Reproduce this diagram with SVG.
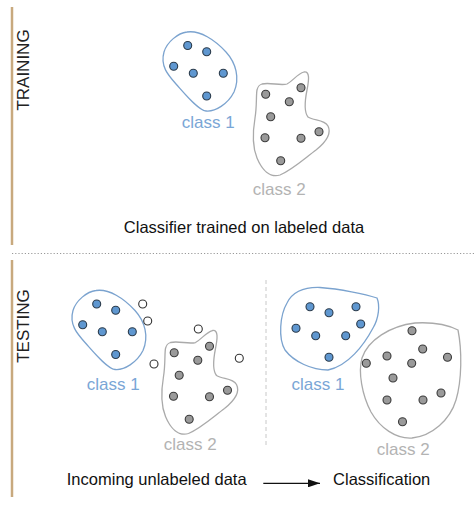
<svg xmlns="http://www.w3.org/2000/svg" width="474" height="505" viewBox="0 0 474 505">
<defs>
<style>
text{font-family:"Liberation Sans",Arial,sans-serif}
.bar{stroke:#c8a97e;stroke-width:2.5}
.side{font-size:17px;fill:#222}
.cap{font-size:16.5px;fill:#111}
.l1{font-size:17px;fill:#7aa6d6}
.l2{font-size:17px;fill:#b3b3b3}
.b1{fill:none;stroke:#7ba3cf;stroke-width:1.3}
.b2{fill:none;stroke:#aaaaaa;stroke-width:1.3}
.d1{fill:#5f97d0;stroke:#2b3b4b;stroke-width:1.1}
.d2{fill:#9a9a9a;stroke:#3a3a3a;stroke-width:1.1}
.d0{fill:#fff;stroke:#333;stroke-width:1.1}
</style>
<marker id="ah" viewBox="0 0 12 8" refX="12" refY="4" markerWidth="12" markerHeight="8" markerUnits="userSpaceOnUse" orient="auto">
<path d="M0 0 L12 4 L0 8 Z" fill="#111"/>
</marker>
<path id="blob1" d="M 187 32 C 200 30, 215 40, 226 52 C 236 63, 240 78, 234 92 C 228 104, 215 112, 206 111 C 198 110, 185 94, 176 84 C 168 75, 160 66, 164 52 C 167 42, 178 33, 187 32 Z"/>
<path id="blob2" d="M 262 84 C 270 82, 280 86, 287 84 C 293 81, 297 74, 304 72 C 310 71, 309 80, 307 90 C 305 100, 304 112, 308 117 C 314 121, 324 119, 328 126 C 332 134, 326 142, 316 150 C 304 159, 292 170, 280 175 C 270 178, 262 170, 257 158 C 252 146, 253 130, 255 118 C 257 106, 256 95, 257 90 C 258 86, 259 85, 262 84 Z"/>
<g id="dots1">
<circle cx="187.7" cy="45.5" r="4"/><circle cx="206.7" cy="51.7" r="4"/><circle cx="173.7" cy="66.3" r="4"/><circle cx="193.3" cy="73.3" r="4"/><circle cx="223.3" cy="73.3" r="4"/><circle cx="206.7" cy="96" r="4"/>
</g>
<g id="dots2">
<circle cx="265.7" cy="94.3" r="4"/><circle cx="301" cy="87.7" r="4"/><circle cx="289.3" cy="101.7" r="4"/><circle cx="270.7" cy="116.7" r="4"/><circle cx="265" cy="137.7" r="4"/><circle cx="301" cy="138.3" r="4"/><circle cx="319" cy="131.7" r="4"/><circle cx="280.7" cy="160.7" r="4"/>
</g>
</defs>

<line class="bar" x1="12" y1="7" x2="12" y2="245"/>
<line class="bar" x1="12" y1="260" x2="12" y2="497"/>
<text class="side" text-anchor="middle" transform="translate(29 70) rotate(-90)">TRAINING</text>
<text class="side" text-anchor="middle" transform="translate(29 326) rotate(-90)">TESTING</text>
<line x1="12" y1="253.5" x2="474" y2="253.5" stroke="#999" stroke-width="1" stroke-dasharray="1.2 2"/>
<line x1="266" y1="280" x2="266" y2="447" stroke="#c8c8c8" stroke-width="1" stroke-dasharray="4 3"/>

<g id="train-class1">
<use href="#blob1" class="b1"/>
<use href="#dots1" class="d1"/>
<text class="l1" x="208.3" y="128" text-anchor="middle">class 1</text>
</g>
<g id="train-class2">
<use href="#blob2" class="b2"/>
<use href="#dots2" class="d2"/>
<text class="l2" x="279.2" y="195" text-anchor="middle">class 2</text>
</g>
<text class="cap" x="244" y="233" text-anchor="middle">Classifier trained on labeled data</text>

<g id="test-class1">
<use href="#blob1" class="b1" transform="translate(-91 258.5)"/>
<use href="#dots1" class="d1" transform="translate(-91 258.5)"/>
<text class="l1" x="113.3" y="390" text-anchor="middle">class 1</text>
</g>
<g id="test-class2">
<use href="#blob2" class="b2" transform="translate(-91.5 258.5)"/>
<use href="#dots2" class="d2" transform="translate(-91.5 258.5)"/>
<text class="l2" x="190.3" y="450" text-anchor="middle">class 2</text>
</g>
<g id="unlabeled" class="d0">
<circle cx="142.7" cy="304" r="4"/><circle cx="147.7" cy="321" r="4"/><circle cx="198.3" cy="329" r="4"/><circle cx="154" cy="364" r="4"/><circle cx="239.3" cy="358.3" r="4"/>
</g>

<g id="result-class1">
<path class="b1" d="M 287 303 C 293 291, 305 287, 320 287.5 C 340 289, 365 294, 377 298 C 380 305, 379 318, 373 328 C 364 345, 348 366, 328 370 C 312 370, 294 362, 285 350 C 278 338, 280 315, 287 303 Z"/>
<g class="d1">
<circle cx="310" cy="306.7" r="4"/><circle cx="329" cy="312.7" r="4"/><circle cx="356" cy="306.7" r="4"/><circle cx="360.7" cy="324" r="4"/><circle cx="296" cy="328.3" r="4"/><circle cx="315.7" cy="335.7" r="4"/><circle cx="345.7" cy="335.7" r="4"/><circle cx="329" cy="357.3" r="4"/>
</g>
<text class="l1" x="318" y="390" text-anchor="middle">class 1</text>
</g>
<g id="result-class2">
<path class="b2" d="M 362 358 C 368 340, 390 326, 415 323 C 432 322, 448 325, 458 330 C 462 350, 462 380, 456 400 C 450 420, 432 436, 412 438 C 396 439, 380 428, 371 412 C 362 395, 358 372, 362 358 Z"/>
<g class="d2">
<circle cx="412" cy="330.7" r="4"/><circle cx="422.7" cy="349" r="4"/><circle cx="387" cy="356" r="4"/><circle cx="411.7" cy="363.3" r="4"/><circle cx="447.5" cy="357.3" r="4"/><circle cx="366.3" cy="363.3" r="4"/><circle cx="393" cy="378" r="4"/><circle cx="387" cy="400" r="4"/><circle cx="423" cy="400" r="4"/><circle cx="441" cy="393" r="4"/><circle cx="402.5" cy="421.7" r="4"/>
</g>
<text class="l2" x="403.3" y="455" text-anchor="middle">class 2</text>
</g>

<g id="connectors">
<line x1="263.3" y1="483.3" x2="320" y2="483.3" stroke="#111" stroke-width="1.2" marker-end="url(#ah)"/>
</g>
<text class="cap" x="156.7" y="485" text-anchor="middle">Incoming unlabeled data</text>
<text class="cap" x="381.7" y="485" text-anchor="middle">Classification</text>
</svg>
